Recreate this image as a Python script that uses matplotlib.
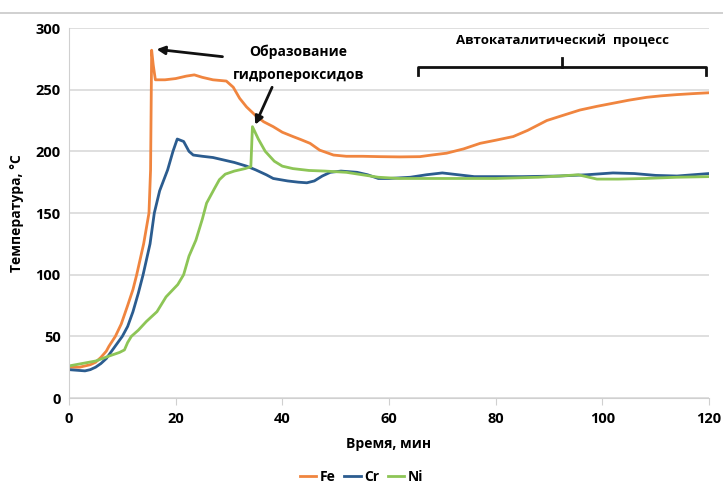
import matplotlib
matplotlib.use("Agg")
import matplotlib.pyplot as plt
from matplotlib.lines import Line2D

plt.rcParams['font.family'] = ['Open Sans', 'DejaVu Sans']
plt.rcParams['font.weight'] = 'bold'

# Fe curve (orange)
fe_x = [0, 2, 4, 5, 6, 7, 7.5, 8.7, 9.8, 11, 12, 12.7, 14, 15, 15.3, 15.5, 15.8, 16.2, 18, 20, 22,
        23.5, 25, 27, 29.5, 30.8, 32, 33.3, 35, 36.5, 38.3, 40, 42, 43.5, 45.2, 47, 49.6, 52, 55, 58.3,
        62, 65.8, 68, 70.8, 74, 77.1, 80, 83.3, 86, 89.6, 92.5, 95.8, 99, 102, 105, 108.3, 111,
        114, 117, 120]
fe_y = [25, 25, 27, 29, 33, 38, 42, 50, 60, 75, 88, 100, 125, 150, 185, 282, 270, 258, 258, 259, 261,
        262, 260, 258, 257, 252, 243, 236, 229, 224, 220, 215.5, 212, 209.5, 206.5, 201, 197, 196, 196, 195.7,
        195.5, 195.7, 197, 198.5, 202, 206.5, 209, 212, 217, 225, 229, 233.5, 236.5, 239, 241.5, 243.8, 245,
        246, 246.8, 247.5]

# Cr curve (blue)
cr_x = [0, 1.5, 3, 4, 5, 6, 7, 8, 9, 10, 11, 12, 13, 13.9, 15.2, 16, 17, 18.5, 19.5, 20.3, 21.5, 22.5,
        23.3, 25, 27, 29, 31, 33.3, 35, 37, 38.3, 41, 43, 44.6, 46, 47.5, 49, 51, 54, 56, 58, 60,
        64, 67, 70, 73, 76, 85, 92, 97, 102, 106, 110, 114, 117, 120]
cr_y = [23, 22.5, 22, 23, 25, 28, 32, 38, 44, 50, 58, 70, 85, 100, 125, 150, 168, 185, 200, 210, 208, 200,
        197, 196, 195, 193, 191, 188, 185, 181, 178, 176, 175, 174.5, 176, 180, 183, 184, 183, 181, 178, 178,
        179, 181, 182.5, 181, 179.5, 179.5, 180, 181, 182.5, 182, 180.5, 180, 181, 182]

# Ni curve (green)
ni_x = [0, 2.5, 5, 7.5, 9.5, 10.4, 11, 11.7, 13, 14.5, 16.5, 18.2, 20.4, 21.5, 22.5, 23.8, 25,
        25.8, 27.3, 28.2, 29.3, 31, 33, 34.1, 34.4, 35.5, 36.8, 38.5, 40, 42, 45, 48, 52, 55, 58, 62, 70,
        80, 88, 92, 95.5, 97.5, 99, 103, 108, 114, 120]
ni_y = [26, 28, 30, 34, 37, 39, 45, 50, 55, 62, 70, 82, 92, 100, 115, 128, 145,
        158, 170, 177, 181.5, 184, 186, 187.5, 220, 210, 200, 192, 188, 186, 184.5, 184, 183, 181, 179, 178, 178,
        178, 179, 180, 181, 179, 177.5, 177.5, 178, 179, 179.5]

names = ['Fe', 'Cr', 'Ni']
colors = ['#F0853F', '#2B5C8F', '#8DC556']

fig = plt.figure(figsize=(7.23, 4.88), dpi=100)
ax = fig.add_axes([0.0954, 0.1844, 0.8852, 0.7582])

for xs, ys, name, c in zip([fe_x, cr_x, ni_x], [fe_y, cr_y, ni_y], names, colors):
    ax.plot(xs, ys, color=c, lw=2.0, label=name, solid_joinstyle='round')

ax.set_xlim(0, 120)
ax.set_ylim(0, 300)
ax.set_xticks(range(0, 121, 20))
ax.set_yticks(range(0, 301, 50))
ax.grid(axis='y', color='#D9D9D9', lw=1.2)
ax.set_axisbelow(True)
for s in ['top', 'right']:
    ax.spines[s].set_visible(False)
ax.spines['left'].set_color('#D0D0D0')
ax.spines['bottom'].set_color('#D0D0D0')
ax.tick_params(axis='y', length=0, labelsize=10.5, pad=6)
ax.tick_params(axis='x', length=5, color='#D0D0D0', labelsize=10.5, pad=5)
ax.set_xlabel('Время, мин', fontsize=10, fontweight='bold', labelpad=8)
ax.set_ylabel('Температура, °C', fontsize=10, fontweight='bold', labelpad=8)

# annotations
ax.text(43, 281, 'Образование', fontsize=10, fontweight='bold', ha='center', va='center')
ax.text(43, 262, 'гидропероксидов', fontsize=10, fontweight='bold', ha='center', va='center')
ax.annotate('', xy=(15.9, 283), xytext=(29.3, 276.5),
            arrowprops=dict(arrowstyle='-|>', color='#111111', lw=2, mutation_scale=12))
ax.annotate('', xy=(34.7, 219.5), xytext=(38.3, 254),
            arrowprops=dict(arrowstyle='-|>', color='#111111', lw=2, mutation_scale=12))

ax.text(92.5, 290, 'Автокаталитический  процесс', fontsize=9.5, fontweight='bold',
        ha='center', va='center')
bx = [65.5, 65.5, 119.5, 119.5]
by = [262, 268.5, 268.5, 262]
ax.plot(bx, by, color='#111111', lw=2, clip_on=False)
ax.plot([92.5, 92.5], [268.5, 275.5], color='#111111', lw=2)

fig.add_artist(Line2D([0, 1], [0.973, 0.973], color='#C8C8C8', lw=1.2))

fig.legend(loc='lower center', bbox_to_anchor=(0.5, -0.018), ncol=3, frameon=False,
           handlelength=1.2, columnspacing=0.6, handletextpad=0.25, fontsize=10)

fig.savefig('out.png', dpi=100)
